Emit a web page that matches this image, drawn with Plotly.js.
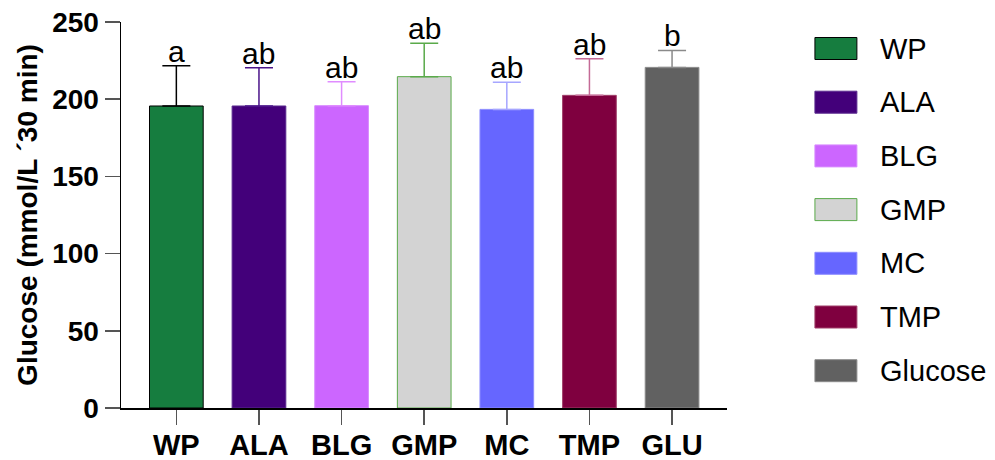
<!DOCTYPE html>
<html>
<head>
<meta charset="utf-8">
<script src="https://cdn.plot.ly/plotly-3.0.1.min.js"></script>
<style>html,body{margin:0;padding:0;background:#fff;}#chart{width:995px;height:460px;}</style>
</head>
<body>
<div id="chart"></div>
<script>
// ---- data ----
const categories = ['WP', 'ALA', 'BLG', 'GMP', 'MC', 'TMP', 'GLU'];
const legendNames = ['WP', 'ALA', 'BLG', 'GMP', 'MC', 'TMP', 'Glucose'];
const means = [195.6, 195.6, 195.8, 214.6, 193.4, 202.5, 220.6];
const sdUp = [26.1, 24.8, 15.5, 21.6, 17.5, 23.7, 11.0];
const letters = ['a', 'ab', 'ab', 'ab', 'ab', 'ab', 'b'];
const yTicks = [0, 50, 100, 150, 200, 250];

// ---- styles ----
const fillColors = ['#167d3f', '#43007a', '#cc66ff', '#d3d3d3', '#6666ff', '#7f003f', '#616161'];
const lineColors = ['#000000', '#5a2a8e', '#d88cff', '#5aaa4a', '#8c8cff', '#a0406a', '#8a8a8a'];
const errColors = ['#000000', '#4b148a', '#e08cff', '#5aaa4a', '#a6a6ff', '#c46a96', '#8a8a8a'];

const FONT = 'Liberation Sans, Arial, sans-serif';
const W = 995, H = 460;
const M = {l: 120.5, r: 268, t: 22, b: 52};
const pw = W - M.l - M.r, ph = H - M.t - M.b;
const px2x = p => (p - M.l) / pw;
const py2y = p => 1 - (p - M.t) / ph;

const traces = categories.map((c, i) => ({
  type: 'bar',
  x: [c],
  y: [means[i]],
  width: 0.65,
  name: legendNames[i],
  showlegend: false,
  marker: {color: fillColors[i], line: {color: lineColors[i], width: 1}},
  error_y: {type: 'data', symmetric: false, array: [sdUp[i]], arrayminus: [0],
            color: errColors[i], thickness: 1.5, width: 14},
  hoverinfo: 'skip'
}));

const annotations = categories.map((c, i) => ({
  x: c, y: means[i] + sdUp[i], xref: 'x', yref: 'y',
  text: letters[i], showarrow: false, yanchor: 'bottom', yshift: -4,
  font: {family: FONT, size: 30, color: '#000'}
}));

const shapes = [];
legendNames.forEach((n, i) => {
  const cy = 48.5 + i * 53.7;
  shapes.push({
    type: 'rect', xref: 'paper', yref: 'paper',
    x0: px2x(815), x1: px2x(857), y0: py2y(cy + 11), y1: py2y(cy - 11),
    fillcolor: fillColors[i], line: {color: lineColors[i], width: 1}
  });
  annotations.push({
    xref: 'paper', yref: 'paper', x: px2x(878), y: py2y(cy),
    xanchor: 'left', yanchor: 'middle', showarrow: false, text: n,
    font: {family: FONT, size: 29, color: '#000'}
  });
});

const layout = {
  width: W, height: H,
  margin: M,
  paper_bgcolor: '#fff', plot_bgcolor: '#fff',
  showlegend: false,
  font: {family: FONT, color: '#000'},
  xaxis: {
    type: 'category', categoryorder: 'array', categoryarray: categories,
    range: [-0.67, 6.665],
    showline: true, linecolor: '#000', linewidth: 1.5,
    ticks: 'outside', ticklen: 15, tickwidth: 1.5, tickcolor: '#555',
    ticklabelstandoff: -4,
    showgrid: false, zeroline: false,
    tickfont: {family: FONT, size: 29, color: '#000', weight: 'bold'}
  },
  yaxis: {
    range: [0, 250], tickvals: yTicks,
    showline: true, linecolor: '#000', linewidth: 1.5,
    ticks: 'outside', ticklen: 15, tickwidth: 1.5, tickcolor: '#555',
    showgrid: false, zeroline: false,
    tickfont: {family: FONT, size: 28, color: '#000', weight: 'bold'},
    title: {text: 'Glucose (mmol/L ´30 min)', standoff: 6,
            font: {family: FONT, size: 28, color: '#000', weight: 'bold'}}
  },
  annotations: annotations,
  shapes: shapes
};

Plotly.newPlot('chart', traces, layout, {staticPlot: true, displayModeBar: false});
</script>
</body>
</html>
